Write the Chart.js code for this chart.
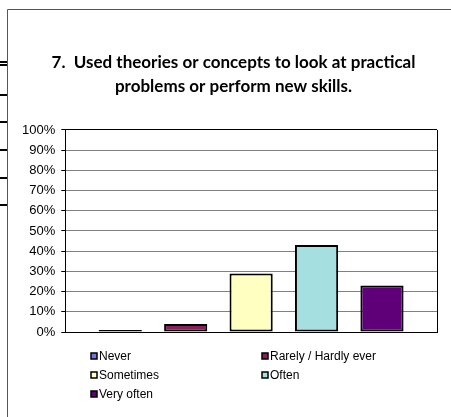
<!DOCTYPE html>
<html>
<head>
<meta charset="utf-8">
<script src="https://cdn.jsdelivr.net/npm/chart.js@4.4.0/dist/chart.umd.min.js"></script>
<style>
  html, body { margin: 0; padding: 0; background: #fff; }
  #wrap { position: relative; width: 451px; height: 417px; }
</style>
</head>
<body>
<div id="wrap"><canvas id="surveyChart" width="451" height="417"></canvas></div>
<script>
var categories = ["Never", "Rarely / Hardly ever", "Sometimes", "Often", "Very often"];
var percents = [1, 4, 29, 43, 23];
var barColors = ["#7373e6", "#8a1f5e", "#ffffc2", "#a6dfe0", "#5f0078"];
var yTicks = [0, 10, 20, 30, 40, 50, 60, 70, 80, 90, 100];
var titleLines = ["7.  Used theories or concepts to look at practical", "problems or perform new skills."];

var datasets = categories.map(function (name, i) {
  return {
    label: name,
    data: [percents[i]],
    backgroundColor: barColors[i],
    borderColor: "#000",
    borderWidth: 2,
    borderSkipped: false,
    categoryPercentage: 0.88,
    barPercentage: 0.66
  };
});

// frame of the embedded chart + the stray marks on the left edge
var framePlugin = {
  id: "frame",
  afterLayout: function (chart) {
    // the original title sits a little right of the chart centre
    if (chart.titleBlock) {
      chart.titleBlock.left += 7;
      chart.titleBlock.right += 7;
    }
  },
  afterDraw: function (chart) {
    var c = chart.ctx;
    var a = chart.chartArea;
    c.save();
    c.strokeStyle = "#555";
    c.lineWidth = 1;
    c.beginPath();
    c.moveTo(7.5, 417);
    c.lineTo(7.5, 9.5);
    c.lineTo(451, 9.5);
    c.stroke();
    c.fillStyle = "#000";
    [61, 64, 94, 121, 149, 177, 204].forEach(function (y) {
      c.fillRect(0, y, 7, 2);
    });
    // right border of plot
    c.strokeStyle = "#000";
    c.beginPath();
    c.moveTo(Math.round(a.right) + 0.5, a.top);
    c.lineTo(Math.round(a.right) + 0.5, a.bottom);
    c.stroke();
    c.restore();
  }
};

// two column legend like the original
var legendPlugin = {
  id: "twoColLegend",
  afterDraw: function (chart) {
    var c = chart.ctx;
    var cols = [91, 262];
    c.save();
    c.font = "12px 'Liberation Sans', Arial, sans-serif";
    c.textBaseline = "middle";
    chart.data.datasets.forEach(function (ds, i) {
      var x = cols[i % 2];
      var y = 356 + Math.floor(i / 2) * 19;
      c.fillStyle = ds.backgroundColor;
      c.fillRect(x, y - 3, 6, 6);
      c.strokeStyle = "#000";
      c.lineWidth = 1.5;
      c.strokeRect(x, y - 3, 6, 6);
      c.fillStyle = "#000";
      c.fillText(ds.label, x + 8, y + 1);
    });
    c.restore();
  }
};

new Chart(document.getElementById("surveyChart").getContext("2d"), {
  type: "bar",
  data: { labels: [""], datasets: datasets },
  options: {
    responsive: false,
    animation: false,
    layout: { padding: { left: 16, right: 14, top: 31, bottom: 77 } },
    plugins: {
      legend: { display: false },
      tooltip: { enabled: false },
      title: {
        display: true,
        text: titleLines,
        color: "#000",
        font: { family: "Lato", size: 17, weight: "bold", lineHeight: 1.41 },
        padding: { top: 20, bottom: 31 }
      }
    },
    scales: {
      x: {
        ticks: { display: false },
        grid: { display: false },
        border: { display: true, color: "#000", width: 1 }
      },
      y: {
        min: 0,
        max: 100,
        afterBuildTicks: function (axis) {
          axis.ticks = yTicks.map(function (v) { return { value: v }; });
        },
        ticks: {
          color: "#000",
          padding: 6,
          font: { family: "'Liberation Sans', Arial, sans-serif", size: 13 },
          callback: function (v) { return v + "%"; }
        },
        grid: {
          color: function (ctx) { return ctx.tick && ctx.tick.value === 100 ? "#000" : "#808080"; },
          tickColor: "#000",
          tickLength: 4
        },
        border: { display: true, color: "#000", width: 1 }
      }
    }
  },
  plugins: [framePlugin, legendPlugin]
});
</script>
</body>
</html>
